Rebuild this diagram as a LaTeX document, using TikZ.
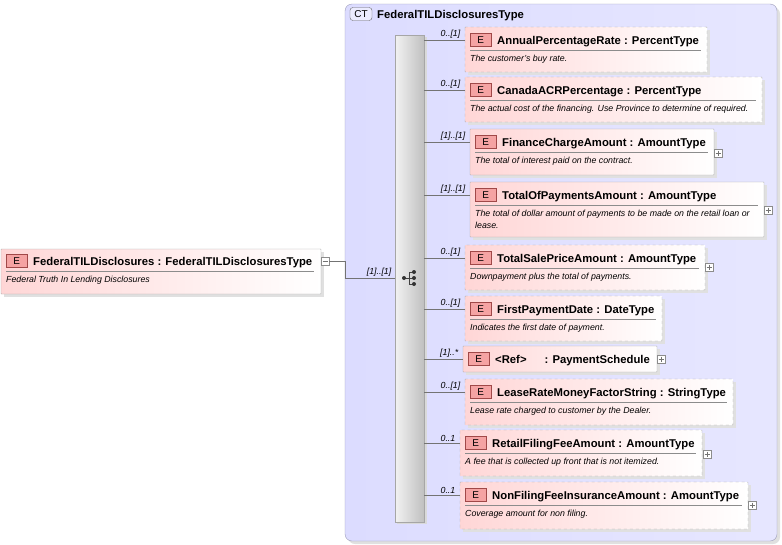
\documentclass[tikz,border=0pt]{standalone}
\usepackage{fontspec}
\setmainfont{Liberation Sans}
\usetikzlibrary{calc}
\definecolor{ctfill}{HTML}{DCDCFF}
\definecolor{ctline}{HTML}{9C9CB8}
\definecolor{elpink}{HTML}{FFD6D6}
\definecolor{badge}{HTML}{F5A3A3}
\definecolor{badgeline}{HTML}{A04848}
\definecolor{boxline}{HTML}{A8A8A8}
\tikzset{
  px/.style={x=1pt,y=-1pt},
  elbox/.style={draw=boxline, left color=elpink, right color=white, rounded corners=0.5pt},
  shadow/.style={fill=black!12},
  badgest/.style={draw=badgeline, fill=badge, inner sep=0pt, font=\fontsize{10}{10}\selectfont},
  ttl/.style={anchor=base west, inner sep=0pt, font=\bfseries\fontsize{11.3}{12}\selectfont},
  dsc/.style={anchor=north west, inner sep=0pt, font=\itshape\fontsize{8.8}{12}\selectfont, align=left},
  card/.style={anchor=south east, inner sep=1.5pt, xshift=-3pt, font=\itshape\fontsize{8.8}{9}\selectfont},
  conn/.style={draw=black!55, line width=0.5pt},
  pm/.style={draw=black!45, fill=white, minimum size=8pt, inner sep=0pt}
}
% name, x1, y1, x2, y2, title, desc, dash style, cardinality
\newcommand\elbx[9]{%
  \pgfmathsetmacro\ty{#3+13}%
  \fill[shadow] (#2+3,#3+3) rectangle (#4+3,#5+3);
  \path[elbox,#8] (#2,#3) rectangle (#4,#5);
  \node[draw=none, inner sep=0pt, minimum width=0pt] (#1) at (#2,\ty) {};
  \node[badgest, minimum width=21pt, minimum height=13pt, anchor=west] (#1e) at (#2+5,\ty) {E};
  \node[ttl] (#1t) at (#2+32,\ty+4) {#6};
  \ifx&#7&\else
    \draw[black!45] (#2+5,#3+23) -- (#4-6,#3+23);
    \node[dsc] (#1d) at (#2+5,#3+28) {#7};
  \fi
  \coordinate (#1s) at (424,\ty);
  \draw[conn] (#1s) -- (#1);
  \node[card] at (#1) {#9};
}
\newcommand\plusat[2]{%
  \node[pm] (#1) at #2 {};
  \draw[black!55] ($(#1)+(-2.5,0)$) -- ($(#1)+(2.5,0)$) ($(#1)+(0,-2.5)$) -- ($(#1)+(0,2.5)$);
}
\begin{document}
\begin{tikzpicture}[px]
\useasboundingbox (0,0) rectangle (782,544);
\fill[white] (0,0) rectangle (782,544);
% complex type panel
\fill[black!12, rounded corners=7pt] (348,7) rectangle (780,544);
\path[draw=ctline, left color=ctfill, right color=ctfill!70!white, rounded corners=7pt] (345,4) rectangle (777,541);
\node[draw=black!60, fill=ctfill!70!blue!20, rounded corners=3pt, minimum width=22pt, minimum height=13pt, inner sep=0pt, font=\fontsize{10}{10}\selectfont] (ct) at (361,14) {CT};
\node[ttl] (ctt) at (377,18) {FederalTILDisclosuresType};
% sequence bar
\fill[black!15] (397,37) rectangle (427,524);
\path[draw=black!35, left color=black!5, right color=black!25] (395,35) rectangle (424,522);
\node (seq) at (410,278) {};
\draw[black!75, line width=0.8pt] (404,278) -- (409,278) (409,272) -- (409,284) (409,272) -- (414,272) (409,278) -- (414,278) (409,284) -- (414,284);
\fill[black!80] (404,278) circle (2pt) (414,272) circle (2pt) (414,278) circle (2pt) (414,284) circle (2pt);
% root element
\fill[shadow] (4,252) rectangle (324,297);
\path[elbox] (1,249) rectangle (321,294);
\node[badgest, minimum width=21pt, minimum height=13pt, anchor=west] (rte) at (6,261) {E};
\node[ttl] (rt) at (33,265) {FederalTILDisclosures : FederalTILDisclosuresType};
\draw[black!45] (6,271) -- (314,271);
\node[dsc] (rtd) at (6,276) {Federal Truth In Lending Disclosures};
\node[pm] (rm) at (325,261) {};
\draw[black!55] (322.5,261) -- (327.5,261);
\coordinate (j) at (345,261);
\coordinate (j2) at (345,278);
\draw[conn] (rm) -- (j) -- (j2) -- (395,278);
\node[card] at (396,278) {[1]..[1]};
% children
\elbx{apr}{465}{27}{707}{72}{AnnualPercentageRate : PercentType}{The customer's buy rate.}{dashed}{0..[1]}
\elbx{acr}{465}{77}{762}{122}{CanadaACRPercentage : PercentType}{The actual cost of the financing. Use Province to determine of required.}{dashed}{0..[1]}
\elbx{fca}{470}{129}{714}{175}{FinanceChargeAmount : AmountType}{The total of interest paid on the contract.}{solid}{[1]..[1]}
\elbx{top}{470}{182}{764}{237}{TotalOfPaymentsAmount : AmountType}{The total of dollar amount of payments to be made on the retail loan or\\lease.}{solid}{[1]..[1]}
\elbx{tsp}{465}{245}{705}{290}{TotalSalePriceAmount : AmountType}{Downpayment plus the total of payments.}{dashed}{0..[1]}
\elbx{fpd}{465}{296}{662}{341}{FirstPaymentDate : DateType}{Indicates the first date of payment.}{dashed}{0..[1]}
\elbx{ref}{463}{346}{657}{372}{<Ref>\hspace{18pt}: PaymentSchedule}{}{solid}{[1]..*}
\elbx{lrm}{465}{379}{733}{425}{LeaseRateMoneyFactorString : StringType}{Lease rate charged to customer by the Dealer.}{dashed}{0..[1]}
\elbx{rff}{460}{430}{702}{476}{RetailFilingFeeAmount : AmountType}{A fee that is collected up front that is not itemized.}{dashed}{0..1}
\elbx{nfi}{460}{482}{748}{529}{NonFilingFeeInsuranceAmount : AmountType}{Coverage amount for non filing.}{dashed}{0..1}
% expand markers
\plusat{p1}{(718,153)}
\plusat{p2}{(768,210)}
\plusat{p3}{(709,267)}
\plusat{p4}{(661,359)}
\plusat{p5}{(707,454)}
\plusat{p6}{(752,505)}
\end{tikzpicture}
\end{document}
